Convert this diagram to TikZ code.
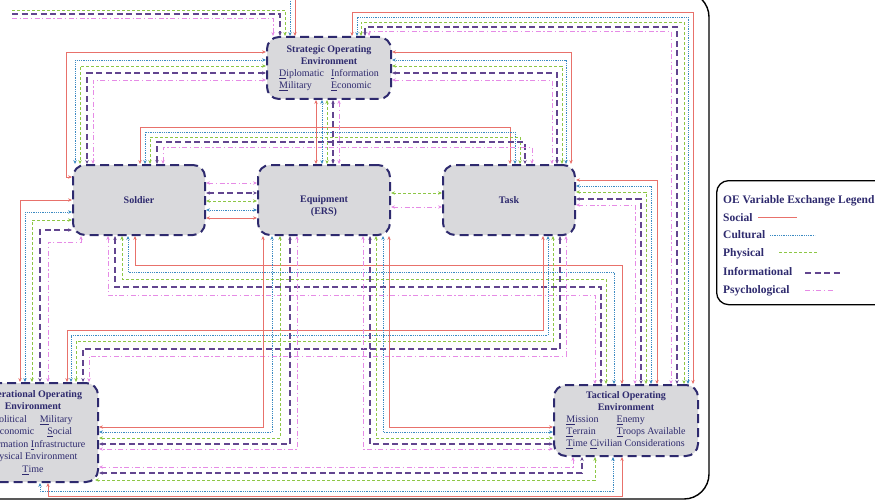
\documentclass[tikz,border=0pt]{standalone}
\usepackage{fontspec}
\setmainfont{Liberation Serif}
\usetikzlibrary{arrows.meta,calc}
\pgfdeclarelayer{background}
\pgfsetlayers{background,main}
\definecolor{navy}{HTML}{2E2A6E}
\definecolor{boxgray}{HTML}{D9D9DC}
\definecolor{socc}{HTML}{E8716B}
\definecolor{culc}{HTML}{3B8AC2}
\definecolor{phyc}{HTML}{8DC745}
\definecolor{infc}{HTML}{62458F}
\definecolor{psyc}{HTML}{E68BE6}
\tikzset{
  soc/.style={draw=socc, line width=0.9pt},
  cul/.style={draw=culc, line width=0.9pt, dash pattern=on 0.9pt off 0.9pt},
  phy/.style={draw=phyc, line width=0.9pt, dash pattern=on 3pt off 2pt},
  inf/.style={draw=infc, line width=1.4pt, dash pattern=on 6pt off 3.5pt},
  psy/.style={draw=psyc, line width=0.9pt, dash pattern=on 5pt off 2.5pt on 1.3pt off 2.5pt},
  oebox/.style={draw=navy, fill=boxgray, line width=2pt, dash pattern=on 9pt off 5pt,
    rounded corners=12pt, text=navy, align=center, inner sep=0pt,
    font=\fontsize{10}{12}\selectfont},
  boxtext/.style={text=navy, align=center, inner sep=0pt, font=\fontsize{10}{12}\selectfont},
  legtext/.style={text=navy, inner sep=0pt, font=\fontsize{11.5}{13}\selectfont\bfseries},
  frame/.style={draw=black, line width=1.4pt, rounded corners=25pt},
}
\begin{document}
\begin{tikzpicture}[x=1pt,y=-1pt,>={Stealth[length=4pt,width=3.4pt]}]
\useasboundingbox (0,0) rectangle (875,500);
\draw[frame] (-30,-8) rectangle (709,499);

% ---------- boxes ----------
\node[oebox, minimum width=124pt, minimum height=62pt] (strat) at (329,68)
 {\begin{tabular}{@{}l@{\hspace{7pt}}l@{}}
  \multicolumn{2}{@{}c@{}}{\bfseries Strategic Operating}\\
  \multicolumn{2}{@{}c@{}}{\bfseries Environment}\\
  \underline{D}iplomatic & \underline{I}nformation\\
  \underline{M}ilitary & \underline{E}conomic
  \end{tabular}};
\node[oebox, minimum width=132pt, minimum height=70pt] (sold) at (139,200) {\textbf{Soldier}};
\node[oebox, minimum width=132pt, minimum height=70pt] (equip) at (324,200) {};
\node[boxtext] (equiplbl) at (324,206.5) {\textbf{Equipment}\\\textbf{(ERS)}};
\node[oebox, minimum width=132pt, minimum height=70pt] (task) at (509,200) {\textbf{Task}};
\node[oebox, minimum width=130pt, minimum height=99pt, font=\fontsize{10}{12.5}\selectfont] (oper) at (33,432.5)
 {\textbf{Operational Operating}\\\textbf{Environment}\\
  \underline{P}olitical\hspace{1.3em}\underline{M}ilitary\\
  \underline{E}conomic\hspace{1.3em}\underline{S}ocial\\
  \underline{I}nformation \underline{I}nfrastructure\\
  \underline{P}hysical Environment\\
  \underline{T}ime};
\node[oebox, minimum width=144pt, minimum height=71pt] (tact) at (626,420.5)
 {\begin{tabular}{@{}l@{\hspace{18pt}}l@{}}
  \multicolumn{2}{@{}c@{}}{\bfseries Tactical Operating}\\
  \multicolumn{2}{@{}c@{}}{\bfseries Environment}\\
  \underline{M}ission & \underline{E}nemy\\
  \underline{T}errain & \underline{T}roops Available\\
  \multicolumn{2}{@{}l@{}}{\underline{T}ime \underline{C}ivilian Considerations}
  \end{tabular}};

% ---------- legend ----------
\node[draw=black, line width=1.3pt, rounded corners=12pt, minimum width=175pt,
      minimum height=124pt, anchor=north west] (legend) at (716,180) {};
\node[legtext, anchor=base west] (ltitle) at (723,203) {OE Variable Exchange Legend};
\node[legtext, anchor=base west] (lsoc) at (723,221) {Social};
\node[legtext, anchor=base west] (lcul) at (723,238) {Cultural};
\node[legtext, anchor=base west] (lphy) at (723,256) {Physical};
\node[legtext, anchor=base west] (linf) at (723,275) {Informational};
\node[legtext, anchor=base west] (lpsy) at (723,293) {Psychological};
\draw[soc] (758,217) -- (797,217);
\draw[cul] (770,235) -- (815,235);
\draw[phy] (779,252) -- (817,252);
\draw[inf] (805,273) -- (843,273);
\draw[psy] (805,290) -- (833,290);

% ---------- connectors ----------
\begin{pgfonlayer}{background}
% Strategic left <-> Soldier top
\draw[soc,<->] (strat.west |- 0,52) -| (66,177) -- (sold.west |- 0,177);
\foreach \st/\yy/\xx in {cul/60/75, phy/66/80, inf/73/87, psy/80/93}
  \draw[\st,<->] (strat.west |- 0,\yy) -| (\xx,0 |- sold.north);
% Soldier top <-> Task top
\foreach \st/\xa/\yy/\xb in {soc/140/127/510, cul/145/132/515, phy/150/137/520, inf/157/142/525, psy/163/147/532}
  \draw[\st,<->] (\xa,0 |- sold.north) |- (\xb,\yy) -- (\xb,0 |- task.north);
% Strategic bottom <-> Equipment top
\foreach \st/\xx in {soc/316, cul/322, phy/327, inf/333, psy/339}
  \draw[\st,<->] (\xx,0 |- strat.south) -- (\xx,0 |- equip.north);
% Strategic right <-> Task top
\foreach \st/\yy/\xx in {soc/52/571, cul/60/566, phy/66/562, inf/73/557, psy/80/552}
  \draw[\st,<->] (strat.east |- 0,\yy) -| (\xx,0 |- task.north);
% Strategic top <-> Tactical top (outer right route)
\foreach \st/\xa/\yy/\xb in {soc/352/12/693, cul/357/17/688, phy/361/22/684, inf/365/27/677, psy/369/31/671}
  \draw[\st,<->] (\xa,0 |- strat.north) |- (\xb,\yy) -- (\xb,0 |- tact.north);
% Strategic top <-> Operational (route leaving the picture)
\coordinate (offphy) at (12,10);
\coordinate (offinf) at (12,14);
\coordinate (offpsy) at (12,18);
\coordinate (offcul) at (290,-10);
\coordinate (offsoc) at (295,-10);
\draw[phy,->] (offphy) -| (285,0 |- strat.north);
\draw[inf,->] (offinf) -| (280,0 |- strat.north);
\draw[psy,->] (offpsy) -| (273,0 |- strat.north);
\draw[cul,->] (offcul) -- (290,0 |- strat.north);
\draw[soc,->] (offsoc) -- (295,0 |- strat.north);
% Soldier <-> Equipment
\foreach \st/\yy in {psy/183, inf/193, phy/201, cul/210, soc/218}
  \draw[\st,<->] (sold.east |- 0,\yy) -- (equip.west |- 0,\yy);
% Equipment <-> Task
\foreach \st/\yy in {phy/193, psy/207}
  \draw[\st,<->] (equip.east |- 0,\yy) -- (task.west |- 0,\yy);
% Task right <-> Tactical top
\foreach \st/\yy/\xx in {soc/180/657, cul/186/651, phy/192/646, inf/199/641, psy/205/635}
  \draw[\st,<->] (task.east |- 0,\yy) -| (\xx,0 |- tact.north);
% Soldier bottom <-> Tactical top
\foreach \st/\xa/\yy/\xb in {soc/135/265/622, cul/128/272/614, phy/122/279/606, inf/115/287/601, psy/108/295/595}
  \draw[\st,<->] (\xa,0 |- sold.south) |- (\xb,\yy) -- (\xb,0 |- tact.north);
% Task bottom <-> Operational top
\foreach \st/\xa/\yy/\xb in {soc/543/330/67, cul/548/335/71, phy/553/341/76, inf/560/349/83, psy/566/356/89}
  \draw[\st,<->] (\xa,0 |- task.south) |- (\xb,\yy) -- (\xb,0 |- oper.north);
% Soldier left <-> Operational top
\foreach \st/\yy/\xx in {soc/200/20, cul/212/25, phy/220/32, inf/230/40}
  \draw[\st,<->] (sold.west |- 0,\yy) -| (\xx,0 |- oper.north);
\draw[psy,<->] (81,0 |- sold.south) |- (48,242) -- (48,0 |- oper.north);
% Equipment bottom <-> Operational right
\foreach \st/\xx/\yy in {soc/263/427, cul/272/432, phy/280/438, inf/290/444, psy/297/449}
  \draw[\st,<->] (\xx,0 |- equip.south) |- (oper.east |- 0,\yy);
% Equipment bottom <-> Tactical left
\foreach \st/\xx/\yy in {soc/389/427, cul/383/432, phy/376/438, inf/370/444, psy/363/449}
  \draw[\st,<->] (\xx,0 |- equip.south) |- (tact.west |- 0,\yy);
% Operational <-> Tactical bottom
\draw[psy,<->] (oper.east |- 0,467) -| (573,0 |- tact.south);
\draw[inf,<->] (oper.east |- 0,473) -| (582,0 |- tact.south);
\draw[phy,<->] ($(oper.east |- 0,480)+(-4,0)$) -| (595,0 |- tact.south);
\draw[cul,<->] (40,0 |- oper.south) |- (613,491) -- (613,0 |- tact.south);
\draw[soc,<->] (48,0 |- oper.south) |- (622,496) -- (622,0 |- tact.south);
\end{pgfonlayer}
\end{tikzpicture}
\end{document}
